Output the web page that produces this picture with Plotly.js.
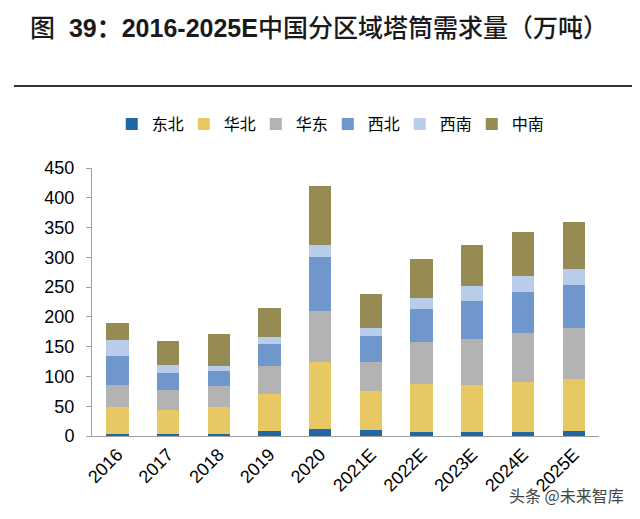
<!DOCTYPE html>
<html>
<head>
<meta charset="utf-8">
<script src="https://cdn.plot.ly/plotly-3.0.1.min.js"></script>
<style>html,body{margin:0;padding:0;background:#fff;}#chart{width:640px;height:519px;}</style>
</head>
<body>
<div id="chart"></div>
<script>
const categories = ['2016','2017','2018','2019','2020','2021E','2022E','2023E','2024E','2025E'];
const dongbei  = [4, 3, 4, 9, 12, 10, 6, 6, 7, 9];
const huabei   = [44, 40, 44, 61, 113, 65, 81, 79, 83, 87];
const huadong  = [38, 34, 36, 48, 85, 49, 71, 78, 83, 85];
const xibei    = [49, 28, 25, 36, 91, 44, 55, 64, 69, 73];
const xinan    = [26, 15, 9, 13, 19, 14, 18, 25, 27, 27];
const zhongnan = [29, 39, 53, 48, 99, 57, 67, 69, 73, 78];
const seriesNames = ['东北','华北','华东','西北','西南','中南'];
const seriesColors = ['#2067a6','#e8c862','#b3b3b3','#7097cb','#b8cde9','#968b53'];
const seriesValues = [dongbei, huabei, huadong, xibei, xinan, zhongnan];

const traces = seriesValues.map((v, i) => ({
  type: 'bar',
  name: seriesNames[i],
  x: categories,
  y: v,
  marker: {color: seriesColors[i], line: {width: 0}},
  hoverinfo: 'x+y+name'
}));

const layout = {
  width: 640, height: 519,
  margin: {l: 92, r: 41, t: 168, b: 83, pad: 0},
  paper_bgcolor: '#fff', plot_bgcolor: '#fff',
  barmode: 'stack',
  bargap: 0.56,
  font: {family: 'Arial, "Liberation Sans", sans-serif', color: '#000'},
  title: {
    text: '图  <b>39：2016-2025E</b>中国分区域塔筒需求量（万吨）',
    font: {family: 'Arial, "Liberation Sans", "Noto Sans CJK SC", sans-serif', size: 25, color: '#1a1a1a', weight: 500},
    xref: 'container', yref: 'container',
    x: 30/640, xanchor: 'left', y: 1 - 28/519, yanchor: 'middle'
  },
  xaxis: {
    type: 'category',
    showline: true, linecolor: '#a0a0a0', linewidth: 1,
    ticks: '', showgrid: false, zeroline: false,
    tickangle: -45,
    tickfont: {size: 18, color: '#000', family: 'Arial, "Liberation Sans", sans-serif'}
  },
  yaxis: {
    range: [0, 450], dtick: 50, tick0: 0,
    showline: true, linecolor: '#a0a0a0', linewidth: 1,
    ticks: 'outside', ticklen: 5, tickcolor: '#a0a0a0',
    ticklabelstandoff: 8,
    showgrid: false, zeroline: false,
    tickfont: {size: 18, color: '#000', family: 'Arial, "Liberation Sans", sans-serif'}
  },
  legend: {
    orientation: 'h',
    x: 0.465, xanchor: 'center',
    y: (436 - 124) / 268, yanchor: 'middle',
    font: {size: 16, color: '#000', family: '"Noto Sans CJK SC", sans-serif'},
    itemwidth: 30,
    entrywidth: 27,
    traceorder: 'normal',
    bgcolor: 'rgba(0,0,0,0)'
  },
  shapes: [{
    type: 'line', xref: 'paper', yref: 'paper',
    x0: (14 - 92) / 507, x1: (632 - 92) / 507,
    y0: (436 - 86) / 268, y1: (436 - 86) / 268,
    line: {color: '#333', width: 2}
  }],
  annotations: [{
    text: '头条 @未来智库',
    xref: 'paper', yref: 'paper',
    x: (626 - 92) / 507, xanchor: 'right',
    y: (436 - 495) / 268, yanchor: 'middle',
    showarrow: false,
    font: {size: 16, color: '#444', family: '"Noto Sans CJK SC", sans-serif'}
  }]
};

Plotly.newPlot('chart', traces, layout, {displayModeBar: false, staticPlot: true});
</script>
</body>
</html>
